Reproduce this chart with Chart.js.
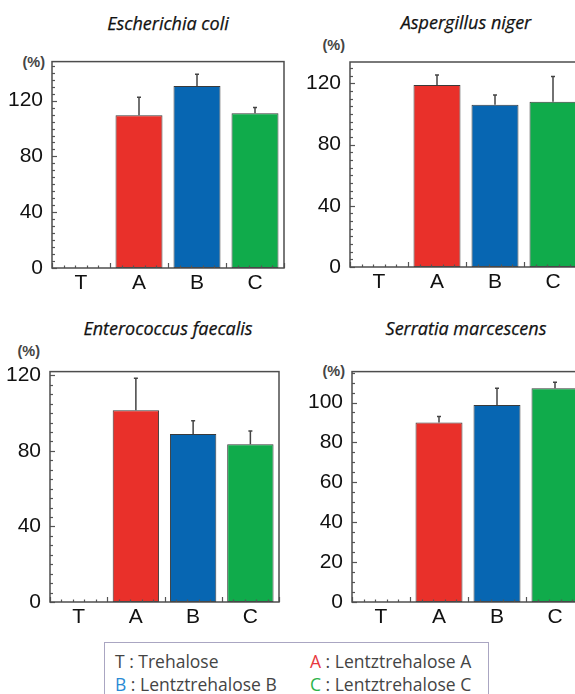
<!DOCTYPE html>
<html>
<head>
<meta charset="utf-8">
<script src="https://cdn.jsdelivr.net/npm/chart.js@4"></script>
<style>
  html, body { margin: 0; padding: 0; background: #fff; }
  body { width: 575px; height: 694px; position: relative; overflow: hidden; }
  canvas { position: absolute; }
  .title { position: absolute; transform: translate(-50%, -50%); font-family: "Open Sans", "Noto Sans", sans-serif; font-style: italic; font-size: 18px; color: #111; white-space: nowrap; -webkit-text-stroke: 0.25px #111; }
  .unit { position: absolute; transform: translate(-100%, -50%); font-family: "Liberation Sans", Arial, sans-serif; font-weight: bold; font-size: 14.5px; color: #444; }
  .legend { position: absolute; left: 104px; top: 642px; width: 383px; height: 70px; border: 1px solid #aaa6c2; font-family: "Open Sans", "Noto Sans", sans-serif; font-size: 17.5px; color: #444; }
  .legend span.item { position: absolute; white-space: nowrap; transform: translateY(-50%); }
</style>
</head>
<body>
<div class="title" style="left:168px;top:23px">Escherichia coli</div>
<div class="title" style="left:466px;top:22px">Aspergillus niger</div>
<div class="title" style="left:168px;top:328px">Enterococcus faecalis</div>
<div class="title" style="left:466px;top:328px">Serratia marcescens</div>

<div class="unit" style="left:45px;top:62px">(%)</div>
<div class="unit" style="left:345px;top:45px">(%)</div>
<div class="unit" style="left:40px;top:351px">(%)</div>
<div class="unit" style="left:345px;top:371px">(%)</div>

<canvas id="coli" width="290" height="260" style="left:0;top:40px"></canvas>
<canvas id="niger" width="290" height="260" style="left:300px;top:40px"></canvas>
<canvas id="faecalis" width="290" height="280" style="left:0;top:350px"></canvas>
<canvas id="marcescens" width="290" height="280" style="left:300px;top:350px"></canvas>

<div class="legend">
  <span class="item" style="left:10px;top:18px">T : Trehalose</span>
  <span class="item" style="left:205px;top:18px"><span style="color:#e8383d">A</span> : Lentztrehalose A</span>
  <span class="item" style="left:10px;top:41px"><span style="color:#2a8ad4">B</span> : Lentztrehalose B</span>
  <span class="item" style="left:205px;top:41px"><span style="color:#2bb34a">C</span> : Lentztrehalose C</span>
</div>

<script>
const categories = ['T', 'A', 'B', 'C'];

const coliValues = [0, 109.5, 130.5, 111];
const coliErrors = [0, 13, 8.5, 4];

const nigerValues = [0, 119, 106, 108];
const nigerErrors = [0, 6.5, 6.5, 16.5];

const faecalisValues = [0, 101.5, 89, 83.5];
const faecalisErrors = [0, 17, 7, 7];

const marcescensValues = [0, 90, 98.7, 107.2];
const marcescensErrors = [0, 3, 8.5, 3];

const barColors = ['rgba(0,0,0,0)', '#e9302a', '#0766b2', '#10ab4b'];
const axisFont = { family: 'Liberation Sans, Arial, sans-serif', size: 21 };

// cadre, graduations et barres d'erreur
const extrasPlugin = {
    id: 'extras',
    afterDatasetsDraw(chart, args, opts) {
        const ctx = chart.ctx;
        const ca = chart.chartArea;
        const x = chart.scales.x;
        const y = chart.scales.y;
        const values = chart.data.datasets[0].data;
        const errors = opts.errors;

        ctx.save();
        ctx.strokeStyle = '#444';
        ctx.lineWidth = 1.5;
        chart.getDatasetMeta(0).data.forEach((bar, i) => {
            if (!errors[i]) return;
            const yBar = y.getPixelForValue(values[i]);
            const yTop = y.getPixelForValue(values[i] + errors[i]);
            ctx.beginPath();
            ctx.moveTo(bar.x, yBar);
            ctx.lineTo(bar.x, yTop);
            ctx.moveTo(bar.x - 2, yTop);
            ctx.lineTo(bar.x + 2, yTop);
            ctx.stroke();
        });

        // graduations de l'axe y (vers l'intérieur)
        ctx.strokeStyle = '#555';
        ctx.lineWidth = 1.2;
        y.ticks.forEach(t => {
            const py = Math.round(y.getPixelForValue(t.value)) + 0.5;
            const len = t.value % opts.labelStep === 0 ? 5 : 3;
            ctx.beginPath();
            ctx.moveTo(ca.left, py);
            ctx.lineTo(ca.left + len, py);
            ctx.stroke();
        });

        // graduations de l'axe x
        for (let k = 0; k <= categories.length * 5; k++) {
            const px = Math.round(x.getPixelForValue(-0.5 + k / 5)) + 0.5;
            const len = k % 5 === 0 ? 5 : 2.5;
            ctx.beginPath();
            ctx.moveTo(px, ca.bottom);
            ctx.lineTo(px, ca.bottom - len);
            ctx.stroke();
        }

        // cadre
        ctx.strokeStyle = '#4d4d4d';
        ctx.lineWidth = 1.5;
        ctx.strokeRect(ca.left, ca.top, ca.right - ca.left, ca.bottom - ca.top);
        ctx.restore();
    }
};

function makePanel(id, values, errors, yMax, labelStep, minorStep, box) {
    return new Chart(document.getElementById(id), {
        type: 'bar',
        data: {
            labels: categories,
            datasets: [{
                data: values,
                backgroundColor: barColors,
                borderColor: '#3a3a3a',
                borderWidth: [0, 1, 1, 1],
                borderSkipped: false,
                categoryPercentage: 1,
                barPercentage: 0.81
            }]
        },
        options: {
            responsive: false,
            animation: false,
            devicePixelRatio: 1,
            layout: { padding: { top: box.top, right: box.right, left: 0, bottom: 0 } },
            plugins: {
                legend: { display: false },
                tooltip: { enabled: false },
                extras: { errors, labelStep }
            },
            scales: {
                x: {
                    grid: { display: false, drawTicks: false },
                    border: { display: false },
                    ticks: { padding: 3, color: '#111', font: axisFont },
                    afterFit(s) { s.height = box.xh; }
                },
                y: {
                    min: 0,
                    max: yMax,
                    grid: { display: false, drawTicks: false },
                    border: { display: false },
                    ticks: {
                        autoSkip: false,
                        padding: box.pad,
                        color: '#111',
                        font: axisFont,
                        callback: v => (v % labelStep === 0 ? v : '')
                    },
                    afterBuildTicks(s) {
                        const ticks = [];
                        for (let v = 0; v <= yMax; v += minorStep) ticks.push({ value: v });
                        s.ticks = ticks;
                    },
                    afterFit(s) { s.width = box.yw; }
                }
            }
        },
        plugins: [extrasPlugin]
    });
}

makePanel('coli', coliValues, coliErrors, 148, 40, 5, { top: 21, right: 6, xh: 32, yw: 52, pad: 9 });
makePanel('niger', nigerValues, nigerErrors, 134, 40, 5, { top: 22, right: 8, xh: 33, yw: 50, pad: 9 });
makePanel('faecalis', faecalisValues, faecalisErrors, 122, 40, 5, { top: 21, right: 11, xh: 28, yw: 50, pad: 9 });
makePanel('marcescens', marcescensValues, marcescensErrors, 115.5, 20, 5, { top: 21, right: 6, xh: 28, yw: 52, pad: 9 });
</script>
</body>
</html>
